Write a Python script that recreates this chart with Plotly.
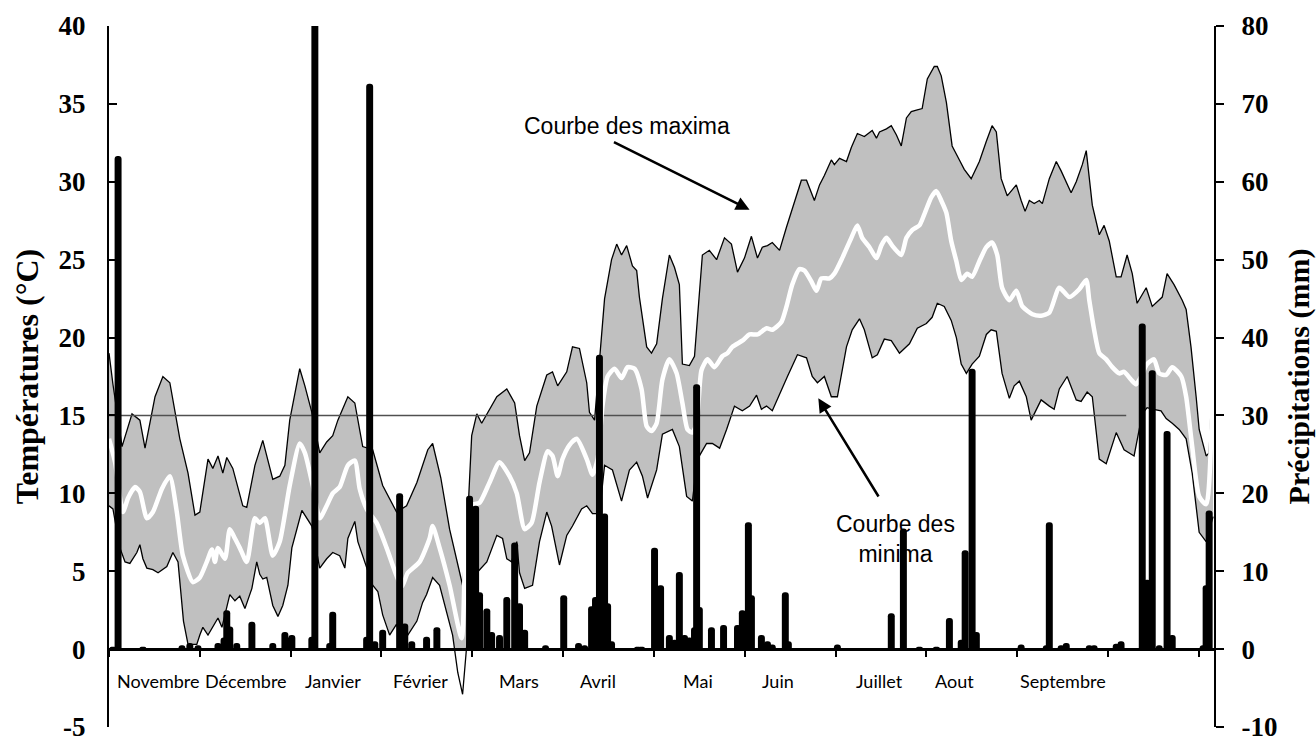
import plotly.graph_objects as go

# ---------------- data (day index from 1st point, value) ----------------
tmax_series = [
    (0, 19.0), (1.3, 17.0), (4.3, 13.0), (7.6, 15.1), (10.2, 14.7), (11.9, 12.9), (15.2, 16.2), (17.8, 17.5),
    (20.1, 17.1), (23.4, 13.5), (26.1, 11.3), (28.4, 8.6), (30.0, 8.8), (32.7, 12.2), (34.3, 11.6), (36.0, 12.4),
    (37.6, 11.3), (38.9, 12.3), (40.9, 11.6), (44.2, 9.2), (45.5, 9.1), (48.2, 11.8), (50.8, 13.4), (54.1, 10.9),
    (56.4, 11.1), (58.1, 11.8), (59.7, 14.7), (63.0, 18.0), (64.7, 16.9), (67.0, 15.2), (69.6, 12.6), (71.9, 13.3),
    (73.9, 13.7), (75.6, 14.7), (78.9, 16.2), (81.2, 15.8), (83.8, 13.0), (87.1, 12.8), (90.4, 10.5), (95.0, 8.8),
    (98.3, 9.2), (101.7, 10.7), (105.3, 12.8), (106.9, 13.2), (109.6, 11.0), (112.5, 7.7), (116.8, 4.1), (118.5, 8.5),
    (119.8, 13.7), (121.5, 15.1), (123.1, 14.5), (125.1, 15.2), (128.1, 16.2), (131.4, 16.7), (134.0, 15.8), (135.6, 13.7),
    (137.3, 12.1), (138.9, 12.6), (141.3, 15.6), (144.6, 17.6), (146.5, 17.8), (148.2, 16.9), (151.2, 17.8), (153.1, 19.4),
    (155.4, 19.3), (157.8, 17.1), (158.7, 15.2), (160.4, 14.7), (162.0, 18.5), (163.7, 22.5), (166.0, 25.0), (167.7, 26.0),
    (169.3, 25.3), (171.0, 25.9), (172.9, 24.6), (174.3, 24.3), (175.2, 22.6), (177.6, 19.4), (179.2, 19.0), (180.9, 19.6),
    (182.8, 22.5), (185.1, 25.3), (186.8, 24.5), (188.4, 23.4), (189.4, 18.3), (191.7, 18.2), (193.4, 18.8), (195.0, 22.6),
    (196.0, 25.3), (198.3, 25.6), (200.7, 25.0), (203.3, 26.4), (205.6, 26.0), (207.6, 24.2), (209.9, 25.1), (212.2, 26.5),
    (214.2, 25.1), (215.8, 25.8), (217.5, 25.9), (219.1, 26.1), (221.5, 25.6), (223.8, 27.1), (225.7, 28.3), (228.7, 30.1),
    (230.4, 30.1), (233.0, 28.8), (234.7, 29.8), (236.3, 30.4), (238.6, 31.4), (239.6, 31.1), (241.3, 31.5), (243.6, 31.3),
    (245.2, 32.2), (247.2, 33.1), (249.5, 32.9), (252.1, 33.3), (253.5, 32.8), (254.5, 33.2), (256.8, 33.4), (258.4, 33.6),
    (260.1, 33.0), (261.7, 32.3), (263.4, 34.1), (265.0, 34.5), (266.7, 34.6), (268.6, 34.7), (270.3, 36.6), (272.6, 37.4),
    (273.6, 37.4), (274.9, 36.8), (276.6, 35.1), (278.5, 32.3), (280.9, 31.4), (282.5, 30.8), (284.8, 30.2), (287.5, 31.3),
    (289.8, 32.6), (291.7, 33.6), (293.1, 33.2), (294.7, 30.2), (296.7, 29.1), (299.7, 29.8), (301.3, 28.8), (302.6, 28.1),
    (304.0, 28.8), (305.6, 28.6), (307.3, 28.8), (308.3, 28.6), (310.6, 30.2), (312.9, 31.3), (314.5, 30.7), (316.2, 30.0),
    (317.8, 29.3), (319.5, 30.0), (321.5, 31.1), (322.8, 32.0), (324.8, 28.5), (327.1, 26.6), (328.7, 27.2), (330.4, 26.2),
    (332.7, 23.9), (334.3, 23.9), (336.3, 25.3), (338.0, 24.1), (339.6, 22.2), (342.6, 23.2), (344.6, 22.0), (347.9, 22.6),
    (349.5, 24.1), (351.8, 23.4), (354.5, 22.4), (355.8, 21.8), (357.4, 19.4), (359.1, 16.2), (360.1, 14.1), (362.4, 12.4),
    (363.4, 12.6), (364.7, 18.5),
]

tmin_series = [
    (0, 9.2), (1.3, 9.0), (3.6, 6.5), (5.3, 5.6), (6.9, 5.5), (9.2, 6.2), (10.2, 6.7), (11.2, 5.8), (12.5, 5.2),
    (14.5, 5.1), (16.2, 4.9), (19.1, 5.3), (21.1, 6.2), (22.8, 5.6), (23.8, 3.5), (24.6, 1.8), (26.1, 0.3), (29.0, 0.3),
    (30.0, 0.9), (31.0, 1.4), (32.7, 0.9), (34.3, 1.4), (36.0, 2.0), (37.3, 1.4), (38.3, 2.2), (39.9, 3.5), (41.6, 3.1),
    (43.2, 3.4), (44.9, 2.6), (47.2, 3.9), (48.8, 5.6), (49.8, 4.8), (50.8, 4.5), (52.1, 4.6), (54.1, 2.8), (55.8, 2.1),
    (57.4, 2.8), (59.1, 4.1), (60.4, 6.5), (63.7, 8.9), (67.0, 7.9), (69.6, 5.2), (71.9, 5.8), (73.9, 6.2), (76.2, 6.0),
    (77.9, 5.2), (78.9, 7.1), (81.2, 8.2), (82.2, 6.9), (83.8, 6.0), (87.1, 4.1), (88.8, 3.7), (90.4, 2.2), (92.7, 0.9),
    (95.0, 1.6), (96.7, 0.5), (98.7, 0.9), (101.7, 1.8), (103.6, 3.0), (104.9, 3.5), (106.9, 4.6), (109.2, 4.1),
    (111.6, 2.4), (113.5, 0.9), (115.2, -1.5), (116.8, -2.9), (118.5, 1.0), (120.1, 6.0), (121.5, 4.9), (124.8, 5.6),
    (128.1, 7.3), (130.0, 7.1), (131.4, 5.8), (133.0, 5.6), (134.7, 6.9), (135.6, 4.9), (137.3, 3.9), (139.9, 4.1),
    (142.2, 6.9), (144.6, 8.8), (146.2, 7.9), (148.8, 5.4), (151.2, 7.3), (153.1, 7.9), (156.1, 9.0), (157.8, 9.2),
    (159.7, 8.7), (162.0, 8.7), (163.7, 11.8), (166.3, 11.5), (169.3, 9.5), (171.9, 11.5), (174.3, 12.0), (176.2, 11.1),
    (177.9, 9.7), (180.9, 11.5), (182.8, 13.8), (186.1, 14.1), (188.4, 13.0), (190.8, 9.8), (192.7, 9.5), (194.4, 12.2),
    (197.4, 13.2), (199.3, 13.2), (201.7, 12.9), (204.0, 14.1), (206.6, 15.6), (209.2, 15.3), (211.6, 15.6), (213.9, 16.3),
    (215.5, 15.4), (217.2, 15.6), (219.1, 15.3), (221.5, 16.4), (224.1, 17.5), (227.4, 18.9), (230.4, 18.7), (232.3, 17.5),
    (234.0, 17.1), (236.3, 17.5), (238.6, 16.2), (240.6, 16.2), (243.6, 19.4), (245.5, 20.5), (247.9, 21.2), (249.5, 20.5),
    (252.1, 18.7), (253.8, 18.9), (256.1, 19.9), (258.4, 19.8), (261.1, 19.0), (264.4, 19.6), (267.0, 20.6), (270.0, 20.9),
    (271.9, 21.3), (273.6, 22.2), (275.9, 22.0), (278.2, 21.1), (279.9, 20.0), (281.5, 18.3), (283.2, 17.7), (285.1, 18.3),
    (287.5, 18.8), (289.8, 20.2), (291.4, 20.5), (293.1, 20.4), (295.0, 17.7), (297.4, 16.1), (299.0, 16.9), (300.7, 17.2),
    (303.0, 16.2), (304.6, 14.7), (307.9, 16.0), (310.6, 15.6), (312.2, 15.4), (313.9, 16.7), (316.5, 17.5), (319.5, 16.0),
    (321.1, 15.9), (323.1, 16.5), (324.8, 16.2), (327.1, 12.2), (329.4, 11.9), (332.7, 13.9), (335.3, 12.8), (338.6, 12.4),
    (341.3, 15.1), (342.9, 15.5), (344.6, 15.4), (347.5, 15.3), (349.2, 14.8), (351.2, 14.5), (353.5, 14.1), (355.8, 13.5),
    (357.8, 11.3), (360.1, 7.5), (362.4, 6.9), (364.7, 8.5),
]

tmoy_series = [
    (0, 13.5), (2.0, 12.0), (4.6, 8.8), (6.3, 9.7), (8.6, 10.4), (10.2, 10.1), (12.5, 8.4), (14.5, 8.8), (17.5, 10.3),
    (20.1, 11.1), (22.4, 8.8), (24.4, 6.0), (27.7, 4.3), (30.0, 4.6), (32.3, 5.6), (34.0, 6.4), (35.0, 5.6), (36.0, 6.5),
    (38.3, 5.8), (39.9, 7.7), (41.6, 7.1), (43.2, 6.5), (45.5, 5.6), (48.2, 8.4), (49.8, 8.1), (51.5, 8.4), (54.1, 6.0),
    (56.4, 6.9), (59.7, 10.5), (63.0, 13.2), (64.7, 12.6), (67.3, 10.5), (69.6, 8.4), (71.9, 9.2), (73.9, 10.0), (76.2, 10.4),
    (78.9, 11.8), (81.2, 12.1), (82.8, 10.3), (85.1, 9.0), (88.4, 8.1), (91.7, 6.5), (95.0, 4.7), (96.7, 4.0), (98.7, 4.9),
    (102.6, 5.6), (105.9, 7.1), (106.9, 7.9), (109.2, 6.5), (112.5, 4.1), (116.5, 0.7), (119.1, 9.2), (122.4, 9.4),
    (125.7, 10.7), (129.0, 12.0), (132.3, 11.1), (134.7, 10.0), (137.3, 7.7), (139.6, 8.1), (142.2, 10.7), (144.9, 12.7),
    (146.5, 12.4), (148.2, 11.1), (149.8, 12.2), (152.1, 13.1), (154.5, 13.5), (157.8, 12.2), (159.7, 11.2), (161.4, 12.2),
    (163.0, 15.6), (164.7, 17.5), (167.0, 18.0), (169.3, 17.4), (171.3, 18.1), (173.6, 18.0), (175.9, 16.7), (177.6, 14.3),
    (179.2, 14.0), (180.9, 14.5), (182.8, 17.3), (185.1, 18.6), (187.5, 17.7), (189.4, 15.8), (191.1, 14.1), (192.7, 13.9),
    (194.1, 14.5), (195.7, 17.9), (197.7, 18.6), (200.0, 18.1), (202.6, 18.8), (204.3, 19.0), (205.9, 19.4), (209.2, 19.8),
    (211.6, 20.2), (214.2, 20.2), (217.2, 20.6), (219.1, 20.5), (222.1, 21.0), (223.8, 22.0), (225.7, 23.4), (228.1, 24.4),
    (229.7, 24.3), (232.0, 23.6), (233.7, 23.0), (235.3, 23.8), (238.0, 23.8), (239.6, 24.1), (242.2, 25.1), (245.2, 26.4),
    (247.2, 27.2), (248.8, 26.4), (251.2, 25.8), (253.5, 25.1), (255.1, 25.9), (256.8, 26.4), (258.7, 25.9), (261.7, 25.3),
    (263.4, 26.4), (265.3, 26.9), (267.7, 27.2), (269.3, 27.9), (271.6, 29.0), (273.3, 29.4), (274.9, 28.8), (276.6, 28.0),
    (278.2, 26.2), (279.9, 24.9), (281.5, 23.7), (283.5, 24.1), (285.1, 23.9), (287.5, 24.9), (289.8, 25.8), (291.7, 26.1),
    (293.4, 25.3), (295.0, 23.2), (297.4, 22.4), (299.7, 23.0), (301.7, 22.0), (305.0, 21.5), (307.9, 21.4), (310.6, 21.6),
    (313.9, 23.2), (317.2, 22.6), (320.5, 23.1), (322.8, 23.7), (323.8, 22.4), (325.4, 20.5), (327.1, 19.0), (329.4, 18.6),
    (331.4, 18.1), (333.7, 17.7), (335.3, 17.8), (337.6, 17.3), (339.3, 17.0), (340.9, 17.5), (342.9, 18.3), (345.2, 18.6),
    (346.9, 17.7), (349.2, 17.6), (351.2, 18.1), (354.2, 17.5), (355.8, 16.2), (357.8, 13.0), (360.1, 9.8), (362.4, 9.3),
    (364.7, 20.0),
]

precip_series = [
    (1.3, 0.3), (3.0, 63.3), (11.2, 0.3), (24.1, 0.5), (26.7, 0.8), (29.4, 0.5), (36.0, 0.8), (38.0, 1.5), (38.9, 5.0),
    (39.9, 2.9), (42.2, 0.8), (47.2, 3.5), (54.1, 0.8), (58.1, 2.2), (59.7, 1.5), (60.4, 1.8), (67.0, 1.6), (68.0, 85.0),
    (72.9, 0.8), (73.9, 4.8), (85.1, 1.6), (86.1, 72.6), (87.8, 1.0), (90.4, 2.5), (96.0, 20.0), (97.7, 3.3), (100.0, 1.0),
    (104.9, 1.6), (108.3, 2.8), (119.1, 19.7), (121.1, 18.4), (122.4, 7.3), (124.8, 5.2), (126.4, 2.2), (129.0, 1.8),
    (131.4, 6.7), (134.0, 13.7), (135.6, 5.9), (137.3, 2.5), (144.2, 0.5), (150.2, 6.9), (155.1, 0.8), (157.1, 0.5),
    (159.4, 5.5), (160.7, 6.7), (162.0, 37.8), (163.7, 17.4), (164.7, 5.9), (166.0, 1.0), (174.6, 0.3), (175.9, 0.3),
    (180.2, 13.0), (182.2, 8.2), (185.1, 1.8), (186.8, 1.2), (188.4, 9.9), (190.1, 1.8), (191.7, 1.5), (193.4, 2.8),
    (194.1, 34.0), (195.0, 5.4), (199.0, 2.8), (203.0, 3.1), (207.6, 3.1), (209.2, 5.0), (211.2, 16.3), (212.2, 6.9),
    (215.5, 1.8), (217.5, 1.0), (219.1, 0.6), (223.4, 7.3), (224.4, 1.0), (240.6, 0.6), (258.4, 4.6), (262.4, 15.5),
    (267.7, 0.3), (273.3, 0.3), (277.6, 4.0), (281.5, 1.2), (282.8, 12.7), (285.1, 36.0), (286.5, 2.2), (301.3, 0.6),
    (309.6, 0.5), (310.6, 16.3), (314.5, 0.5), (316.2, 0.8), (323.8, 0.5), (325.4, 0.5), (332.7, 0.7), (334.3, 1.0),
    (341.3, 41.8), (342.9, 8.9), (344.6, 35.8), (346.9, 0.5), (349.5, 28.0), (351.2, 1.8), (361.4, 0.5), (362.4, 8.2),
    (363.4, 17.8),
]

seuil_series = [(0, 15), (336, 15)]

month_labels = ["Novembre", "Décembre", "Janvier", "Février", "Mars", "Avril",
                "Mai", "Juin", "Juillet", "Aout", "Septembre"]
month_pos = [16.2, 45.2, 73.9, 103.0, 135.3, 161.4, 194.7, 221.1, 254.5, 279.2, 315.2]

x_ticks = list(range(0, 361, 30))
temp_ticks = [-5, 0, 5, 10, 15, 20, 25, 30, 35, 40]
temp_tick_text = ["-5", "0", "5", "10", "15", "20", "25", "30", "35", "40"]
prec_ticks = [-10, 0, 10, 20, 30, 40, 50, 60, 70, 80]
prec_tick_text = ["-10", "0", "10", "20", "30", "40", "50", "60", "70", "80"]


def unzip(series):
    return [p[0] for p in series], [p[1] for p in series]


fig = go.Figure()

dx, dy = unzip(tmax_series)
fig.add_trace(go.Scatter(x=dx, y=dy, mode="lines", fill="tozeroy",
                         fillcolor="#c0c0c0", line=dict(color="black", width=1.3),
                         showlegend=False, hoverinfo="skip"))
dx, dy = unzip(tmin_series)
fig.add_trace(go.Scatter(x=dx, y=dy, mode="lines", fill="tozeroy",
                         fillcolor="white", line=dict(color="black", width=1.3),
                         showlegend=False, hoverinfo="skip"))
dx, dy = unzip(seuil_series)
fig.add_trace(go.Scatter(x=dx, y=dy, mode="lines", line=dict(color="#505050", width=1.5),
                         showlegend=False, hoverinfo="skip"))
dx, dy = unzip(tmoy_series)
fig.add_trace(go.Scatter(x=dx, y=dy, mode="lines",
                         line=dict(color="white", width=4.5, shape="spline", smoothing=0.6),
                         showlegend=False, hoverinfo="skip"))
dx, dy = unzip(precip_series)
fig.add_trace(go.Bar(x=dx, y=dy, yaxis="y2", width=2.3,
                     marker=dict(color="black", line=dict(width=0), cornerradius=3),
                     showlegend=False, hoverinfo="skip"))

serif_bold = dict(family="Liberation Serif", size=27, color="black", weight="bold")

annotations = []
for lab, pos in zip(month_labels, month_pos):
    annotations.append(dict(x=pos, y=-2.07, xref="x", yref="y", text=lab, showarrow=False,
                            font=dict(family="Lato", size=18, color="black"),
                            xanchor="center", yanchor="middle"))
annotations.append(dict(x=171, y=33.6, xref="x", yref="y", text="Courbe des maxima", showarrow=False,
                        font=dict(family="Liberation Sans", size=23, color="black"),
                        xanchor="center", yanchor="middle"))
annotations.append(dict(x=259.7, y=7.1, xref="x", yref="y", text="Courbe des<br>minima", showarrow=False,
                        font=dict(family="Liberation Sans", size=23, color="black"),
                        xanchor="center", yanchor="middle"))
annotations.append(dict(x=211.6, y=28.2, xref="x", yref="y", ax=166.3, ay=32.6, axref="x", ayref="y",
                        text="", showarrow=True, arrowhead=2, arrowsize=1.1, arrowwidth=2.5,
                        arrowcolor="black", standoff=0))
annotations.append(dict(x=234.3, y=16.1, xref="x", yref="y", ax=254.5, ay=9.7, axref="x", ayref="y",
                        text="", showarrow=True, arrowhead=2, arrowsize=1.1, arrowwidth=2.5,
                        arrowcolor="black", standoff=0))

fig.update_layout(
    width=1316, height=742,
    template="none",
    paper_bgcolor="white", plot_bgcolor="white",
    margin=dict(l=109, r=102, t=26, b=15),
    barmode="overlay",
    showlegend=False,
    annotations=annotations,
    xaxis=dict(range=[0, 365], anchor="free", position=5 / 45, showline=True, linecolor="black",
               linewidth=3, tickvals=x_ticks, ticks="outside", ticklen=6, tickwidth=2,
               tickcolor="black", showticklabels=False, showgrid=False, zeroline=False),
    yaxis=dict(range=[-5, 40], tickvals=temp_ticks, ticktext=temp_tick_text, showline=True,
               linecolor="black", linewidth=2,
               ticks="inside", ticklen=8, tickwidth=2, tickcolor="black", showgrid=False,
               zeroline=False, tickfont=serif_bold, ticklabelstandoff=16, ticklabeloverflow="allow",
               title=dict(text="Températures (°C)",
                          font=dict(family="Liberation Serif", size=32, color="black", weight="bold"),
                          standoff=10)),
    yaxis2=dict(range=[-10, 80], tickvals=prec_ticks, ticktext=prec_tick_text, overlaying="y",
                side="right", anchor="x",
                showline=True, linecolor="black", linewidth=2, ticks="outside", ticklen=8,
                tickwidth=2, tickcolor="black", showgrid=False, zeroline=False,
                tickfont=serif_bold, ticklabelstandoff=12, ticklabeloverflow="allow",
                title=dict(text="Précipitations (mm)",
                           font=dict(family="Liberation Serif", size=30, color="black", weight="bold"),
                           standoff=14)),
)

fig.write_html("out.html", config={"displayModeBar": False},
               post_script="document.body.style.margin='0';")
